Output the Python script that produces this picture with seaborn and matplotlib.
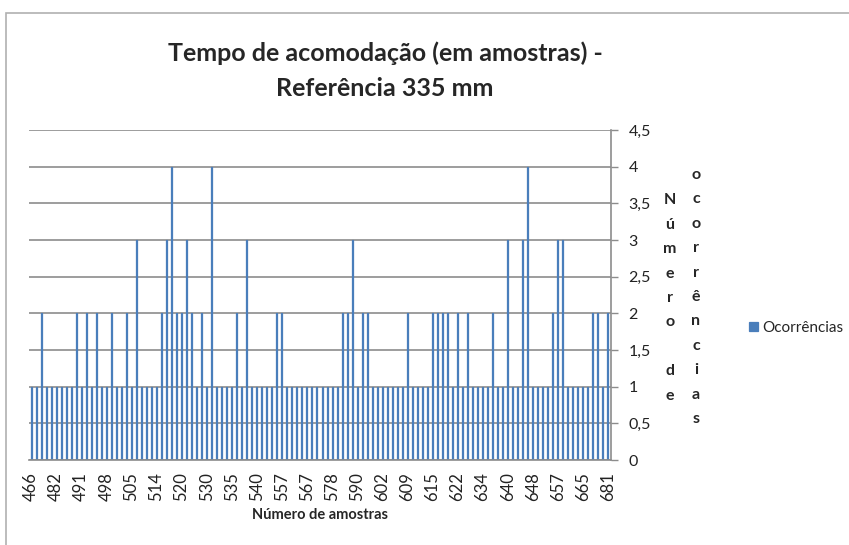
import pandas as pd
import seaborn as sns
import matplotlib.pyplot as plt
from matplotlib.patches import Rectangle

# Ocorrências por tempo de acomodação (uma barra por categoria)
ocorrencias = [
    1, 1, 2, 1, 1, 1, 1, 1, 1, 2,
    1, 2, 1, 2, 1, 1, 2, 1, 1, 2,
    1, 3, 1, 1, 1, 1, 2, 3, 4, 2,
    2, 3, 2, 1, 2, 1, 4, 1, 1, 1,
    1, 2, 1, 3, 1, 1, 1, 1, 1, 2,
    2, 1, 1, 1, 1, 1, 1, 1, 1, 1,
    1, 1, 2, 2, 3, 1, 2, 2, 1, 1,
    1, 1, 1, 1, 1, 2, 1, 1, 1, 1,
    2, 2, 2, 2, 1, 2, 1, 2, 1, 1,
    1, 1, 2, 1, 1, 3, 1, 1, 3, 4,
    1, 1, 1, 1, 2, 3, 3, 1, 1, 1,
    1, 1, 2, 2, 1, 2,
]
categorias = list(range(len(ocorrencias)))

# rótulos visíveis (um a cada 5 categorias)
x_tick_labels = ['466', '482', '491', '498', '505', '514', '520', '530', '535', '540',
                 '557', '567', '578', '590', '602', '609', '615', '622', '634', '640',
                 '648', '657', '665', '681']
y_ticks = [0, 0.5, 1, 1.5, 2, 2.5, 3, 3.5, 4, 4.5]
y_tick_labels = ['0', '0,5', '1', '1,5', '2', '2,5', '3', '3,5', '4', '4,5']

df = pd.DataFrame({'categoria': categorias, 'Ocorrências': ocorrencias})

sns.set_style('white')
plt.rcParams['font.family'] = ['Lato', 'DejaVu Sans']

fig = plt.figure(figsize=(8.49, 5.45), dpi=100)
ax = fig.add_axes([28.5 / 849, 1 - 460 / 545, 582 / 849, 330 / 545])

# moldura do gráfico (estilo Excel)
fig.patches.append(Rectangle((6 / 849, -0.1), 1.1, 1 - 13 / 545 + 0.1,
                             transform=fig.transFigure, fill=False,
                             edgecolor='#b0b0b0', linewidth=1.2))

cor = '#4a7ebb'
sns.barplot(data=df, x='categoria', y='Ocorrências', color=cor,
            width=0.2, saturation=1, ax=ax, label='Ocorrências',
            edgecolor=cor, linewidth=0.9)

ax.set_xlim(-0.5, len(ocorrencias) - 0.5)
ax.set_ylim(0, 4.5)

# eixo y à direita
ax.yaxis.tick_right()
ax.set_yticks(y_ticks)
ax.set_yticklabels(y_tick_labels, fontsize=11.5, color='#222222')
ax.yaxis.grid(True, color='#8c8c8c', linewidth=1.2)
ax.set_axisbelow(True)

ax.set_xticks(categorias[::5])
ax.set_xticklabels(x_tick_labels, rotation=90, fontsize=12, color='#222222')
ax.set_xticks(categorias, minor=True)
ax.tick_params(axis='x', which='both', direction='out', length=5, color='#8c8c8c', width=1)
ax.tick_params(axis='y', direction='out', length=5, color='#8c8c8c', width=1, pad=8)

for side in ['top', 'left']:
    ax.spines[side].set_visible(False)
for side in ['bottom', 'right']:
    ax.spines[side].set_color('#8c8c8c')
    ax.spines[side].set_linewidth(1.2)

ax.set_xlabel('Número de amostras', fontsize=10.5, fontweight='bold', labelpad=5)
ax.set_ylabel('')

# título
fig.text(385 / 849, 1 - 71 / 545, 'Tempo de acomodação (em amostras) -\nReferência 335 mm',
         ha='center', va='center', fontsize=18, fontweight='bold', linespacing=1.65)

# rótulo do eixo y, letras empilhadas em duas colunas
fig.text(670 / 849, 1 - 298 / 545, '\n'.join('Número') + '\n\n' + '\n'.join('de'),
         ha='center', va='center', fontsize=11.5, fontweight='bold', linespacing=1.95)
fig.text(696 / 849, 1 - 297 / 545, '\n'.join('ocorrências'),
         ha='center', va='center', fontsize=11.5, fontweight='bold', linespacing=1.95)

# legenda
leg = ax.legend(loc='center left', bbox_to_anchor=(735 / 849, 1 - 328 / 545),
                bbox_transform=fig.transFigure, frameon=False, fontsize=11,
                handlelength=0.6, handleheight=0.6, handletextpad=0.3)

fig.savefig('out.png', dpi=100)
